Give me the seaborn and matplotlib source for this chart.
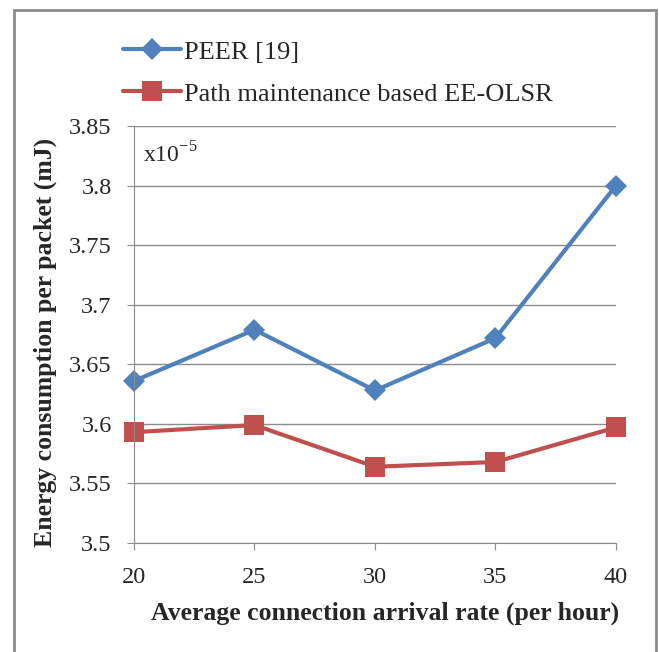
import matplotlib
matplotlib.use("Agg")
import matplotlib.pyplot as plt
import seaborn as sns
import pandas as pd
from matplotlib.patches import Rectangle

# datos
rate = [20, 25, 30, 35, 40]
peer = [3.636, 3.679, 3.628, 3.672, 3.800]
ee_olsr = [3.593, 3.599, 3.564, 3.568, 3.597]
series_names = ["PEER [19]", "Path maintenance based EE-OLSR"]
yticks = [3.5, 3.55, 3.6, 3.65, 3.7, 3.75, 3.8, 3.85]
ytick_labels = ["3.5", "3.55", "3.6", "3.65", "3.7", "3.75", "3.8", "3.85"]

datos = pd.DataFrame({
    "rate": rate * 2,
    "energy": peer + ee_olsr,
    "serie": [series_names[0]] * 5 + [series_names[1]] * 5,
})

sns.set_style("white")
plt.rcParams["font.family"] = ["Liberation Serif", "DejaVu Serif"]

fig = plt.figure(figsize=(6.59, 6.52), dpi=100)
ax = fig.add_axes([0.2033, 0.1672, 0.7314, 0.6395])

colores = {series_names[0]: "#4F81BD", series_names[1]: "#C0504D"}
sns.lineplot(data=datos, x="rate", y="energy", hue="serie", style="serie",
             palette=colores, markers={series_names[0]: "D", series_names[1]: "s"},
             dashes=False, linewidth=3, markersize=11, markeredgewidth=0,
             ax=ax)
# el cuadrado un poco mas grande
for ln in ax.get_lines():
    if ln.get_marker() == "s":
        ln.set_markersize(14.5)

ax.set_xlim(20, 40)
ax.set_ylim(3.5, 3.85)
ax.set_xticks(rate)
ax.set_xticklabels([str(r) for r in rate], fontsize=17.5)
ax.set_yticks(yticks)
ax.set_yticklabels(ytick_labels, fontsize=17.5)
ax.yaxis.grid(True, color="#8c8c8c", linewidth=1)
ax.xaxis.grid(False)
for s in ["top", "right"]:
    ax.spines[s].set_visible(False)
ax.spines["left"].set_color("#8c8c8c")
ax.spines["bottom"].set_color("#8c8c8c")
ax.tick_params(axis="both", which="both", direction="out", length=5,
               color="#8c8c8c", left=True, bottom=True)
ax.tick_params(axis="y", pad=11)
ax.tick_params(axis="x", pad=12)
for ln in ax.get_lines():
    ln.set_clip_on(False)

ax.set_xlabel("Average connection arrival rate (per hour)", fontsize=18.5,
              fontweight="bold")
ax.set_ylabel("Energy consumption per packet (mJ)", fontsize=18.5,
              fontweight="bold")
ax.yaxis.set_label_coords(-0.16, 0.48)
ax.xaxis.set_label_coords(0.52, -0.141)

ax.text(0.018, 0.93, r"x10$^{\mathregular{-5}}$", transform=ax.transAxes,
        fontsize=17, va="center", ha="left")

leg = ax.legend(loc="upper left", bbox_to_anchor=(-0.023, 1.206), frameon=False,
                fontsize=19, handlelength=2.2, handletextpad=0.1,
                labelspacing=0.7, borderaxespad=0, borderpad=0)

# marco exterior
fig.patches.append(Rectangle((14 / 659, -0.05), 642 / 659, 1 - 10 / 652 + 0.05,
                             transform=fig.transFigure, fill=False,
                             edgecolor="#8c8c8c", linewidth=2, zorder=0))

plt.savefig("out.png", dpi=100)
